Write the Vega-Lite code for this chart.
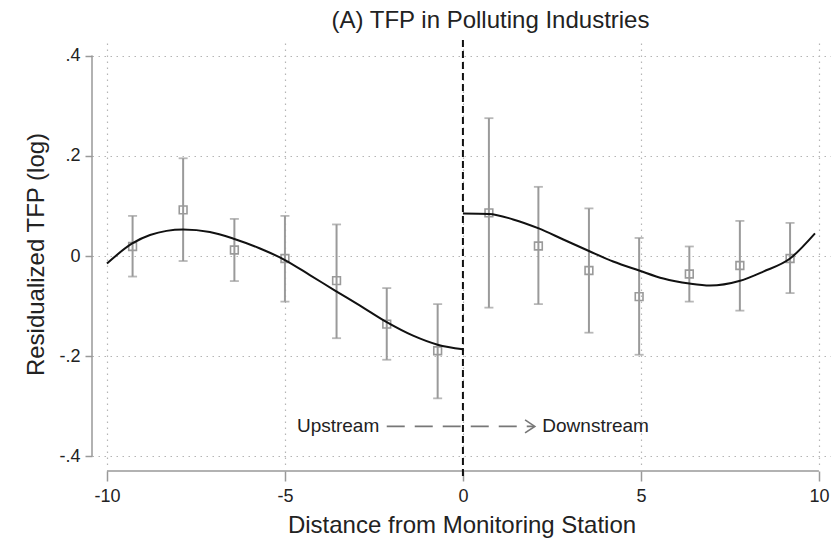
{
  "$schema": "https://vega.github.io/schema/vega-lite/v6.json",
  "width": 739,
  "height": 422,
  "autosize": "none",
  "padding": {"left": 92, "top": 43, "right": 0, "bottom": 75},
  "config": {
    "font": "Liberation Sans",
    "view": {"stroke": null},
    "axis": {
      "labelColor": "#222", "titleColor": "#222", "titleFontWeight": "normal", "titleFontSize": 24,
      "labelFontSize": 18, "domain": false, "tickWidth": 1.5, "tickColor": "#999",
      "grid": true, "gridDash": [1.5, 4.5], "gridColor": "#b5b5b5", "gridWidth": 1.2
    }
  },
  "title": {
    "text": "(A) TFP in Polluting Industries",
    "fontSize": 24,
    "fontWeight": "normal",
    "color": "#222",
    "anchor": "middle",
    "dx": 29,
    "offset": 6
  },
  "datasets": {
    "one": [{"k": 1}],
    "points": [
      {"dist": -9.28, "tfp": 0.019, "lo": -0.041, "hi": 0.080},
      {"dist": -7.86, "tfp": 0.092, "lo": -0.010, "hi": 0.195},
      {"dist": -6.42, "tfp": 0.012, "lo": -0.050, "hi": 0.074},
      {"dist": -5.0, "tfp": -0.005, "lo": -0.091, "hi": 0.080},
      {"dist": -3.55, "tfp": -0.049, "lo": -0.164, "hi": 0.063},
      {"dist": -2.14, "tfp": -0.136, "lo": -0.207, "hi": -0.064},
      {"dist": -0.71, "tfp": -0.189, "lo": -0.284, "hi": -0.096},
      {"dist": 0.73, "tfp": 0.086, "lo": -0.103, "hi": 0.275},
      {"dist": 2.12, "tfp": 0.020, "lo": -0.096, "hi": 0.138},
      {"dist": 3.54, "tfp": -0.029, "lo": -0.153, "hi": 0.095},
      {"dist": 4.95, "tfp": -0.081, "lo": -0.197, "hi": 0.036},
      {"dist": 6.36, "tfp": -0.036, "lo": -0.091, "hi": 0.019},
      {"dist": 7.78, "tfp": -0.019, "lo": -0.109, "hi": 0.070},
      {"dist": 9.19, "tfp": -0.005, "lo": -0.074, "hi": 0.066}
    ],
    "fit": [
      {"side": "up", "dist": -10.0, "tfp": -0.015},
      {"side": "up", "dist": -9.29, "tfp": 0.025},
      {"side": "up", "dist": -8.79, "tfp": 0.042},
      {"side": "up", "dist": -7.86, "tfp": 0.053},
      {"side": "up", "dist": -7.11, "tfp": 0.048},
      {"side": "up", "dist": -6.42, "tfp": 0.034},
      {"side": "up", "dist": -5.7, "tfp": 0.015},
      {"side": "up", "dist": -5.0, "tfp": -0.008},
      {"side": "up", "dist": -4.3, "tfp": -0.038},
      {"side": "up", "dist": -3.57, "tfp": -0.070},
      {"side": "up", "dist": -2.89, "tfp": -0.099},
      {"side": "up", "dist": -2.14, "tfp": -0.132},
      {"side": "up", "dist": -1.4, "tfp": -0.159},
      {"side": "up", "dist": -0.71, "tfp": -0.177},
      {"side": "up", "dist": 0.0, "tfp": -0.186},
      {"side": "down", "dist": 0.0, "tfp": 0.085},
      {"side": "down", "dist": 0.73, "tfp": 0.084},
      {"side": "down", "dist": 1.41, "tfp": 0.073},
      {"side": "down", "dist": 2.13, "tfp": 0.055},
      {"side": "down", "dist": 2.82, "tfp": 0.033},
      {"side": "down", "dist": 3.54, "tfp": 0.010},
      {"side": "down", "dist": 4.22, "tfp": -0.011},
      {"side": "down", "dist": 4.95, "tfp": -0.029},
      {"side": "down", "dist": 5.63, "tfp": -0.045},
      {"side": "down", "dist": 6.36, "tfp": -0.055},
      {"side": "down", "dist": 6.94, "tfp": -0.059},
      {"side": "down", "dist": 7.76, "tfp": -0.050},
      {"side": "down", "dist": 8.44, "tfp": -0.031},
      {"side": "down", "dist": 9.19, "tfp": -0.005},
      {"side": "down", "dist": 9.89, "tfp": 0.045}
    ]
  },
  "layer": [
    {
      "data": {"name": "points"},
      "mark": {"type": "point", "shape": "square", "filled": false, "size": 60, "strokeWidth": 1.6, "color": "#9a9a9a", "opacity": 1},
      "encoding": {
        "x": {
          "field": "dist", "type": "quantitative",
          "scale": {"domain": [-10.42, 10.34], "nice": false, "zero": false},
          "axis": {
            "title": "Distance from Monitoring Station",
            "titlePadding": 8,
            "values": [-10, -5, 0, 5, 10],
            "labelExpr": "(datum.value < 0 ? '-' : '') + abs(datum.value)",
            "offset": 6,
            "tickSize": 10,
            "labelPadding": 6
          }
        },
        "y": {
          "field": "tfp", "type": "quantitative",
          "scale": {"domain": [-0.417, 0.425], "nice": false, "zero": false},
          "axis": {
            "title": "Residualized TFP (log)",
            "titlePadding": 10,
            "values": [-0.4, -0.2, 0, 0.2, 0.4],
            "labelExpr": "datum.value == 0 ? '0' : (datum.value < 0 ? '-' : '') + replace(format(abs(datum.value), '.1f'), '0.', '.')",
            "tickSize": 7,
            "labelPadding": 5
          }
        }
      }
    },
    {
      "data": {"name": "one"},
      "mark": {"type": "rule", "color": "#999", "strokeWidth": 1.5},
      "encoding": {
        "x": {"datum": -10.42},
        "y": {"datum": -0.4},
        "y2": {"datum": 0.4}
      }
    },
    {
      "data": {"name": "one"},
      "mark": {"type": "rule", "color": "#999", "strokeWidth": 1.5},
      "encoding": {
        "x": {"datum": -10},
        "x2": {"datum": 10},
        "y": {"datum": -0.429}
      }
    },
    {
      "data": {"name": "points"},
      "mark": {"type": "rule", "color": "#9a9a9a", "strokeWidth": 2},
      "encoding": {
        "x": {"field": "dist", "type": "quantitative"},
        "y": {"field": "lo", "type": "quantitative"},
        "y2": {"field": "hi"}
      }
    },
    {
      "data": {"name": "points"},
      "mark": {"type": "tick", "orient": "horizontal", "color": "#9a9a9a", "size": 9, "thickness": 1.8},
      "encoding": {
        "x": {"field": "dist", "type": "quantitative"},
        "y": {"field": "lo", "type": "quantitative"}
      }
    },
    {
      "data": {"name": "points"},
      "mark": {"type": "tick", "orient": "horizontal", "color": "#9a9a9a", "size": 9, "thickness": 1.8},
      "encoding": {
        "x": {"field": "dist", "type": "quantitative"},
        "y": {"field": "hi", "type": "quantitative"}
      }
    },
    {
      "data": {"name": "fit"},
      "mark": {"type": "line", "color": "#111", "strokeWidth": 2, "interpolate": "monotone"},
      "encoding": {
        "x": {"field": "dist", "type": "quantitative"},
        "y": {"field": "tfp", "type": "quantitative"},
        "detail": {"field": "side"}
      }
    },
    {
      "data": {"name": "one"},
      "mark": {"type": "rule", "color": "#111", "strokeWidth": 2, "strokeDash": [7, 4]},
      "encoding": {
        "x": {"datum": 0},
        "y": {"datum": 0.431},
        "y2": {"datum": -0.447}
      }
    },
    {
      "data": {"name": "one"},
      "mark": {"type": "rule", "color": "#777", "strokeWidth": 1.8, "strokeDash": [18, 10]},
      "encoding": {
        "x": {"datum": -2.14},
        "x2": {"datum": 2.0},
        "y": {"datum": -0.34}
      }
    },
    {
      "data": {"name": "one"},
      "mark": {"type": "point", "shape": "M-1.5,-1L0,0L-1.5,1", "filled": false, "size": 170, "strokeWidth": 1.6, "color": "#777", "opacity": 1},
      "encoding": {
        "x": {"datum": 2.02},
        "y": {"datum": -0.34}
      }
    },
    {
      "data": {"name": "one"},
      "mark": {"type": "text", "align": "right", "baseline": "middle", "fontSize": 19, "color": "#222"},
      "encoding": {
        "x": {"datum": -2.35},
        "y": {"datum": -0.34},
        "text": {"datum": "Upstream"}
      }
    },
    {
      "data": {"name": "one"},
      "mark": {"type": "text", "align": "left", "baseline": "middle", "fontSize": 19, "color": "#222"},
      "encoding": {
        "x": {"datum": 2.23},
        "y": {"datum": -0.34},
        "text": {"datum": "Downstream"}
      }
    }
  ]
}
